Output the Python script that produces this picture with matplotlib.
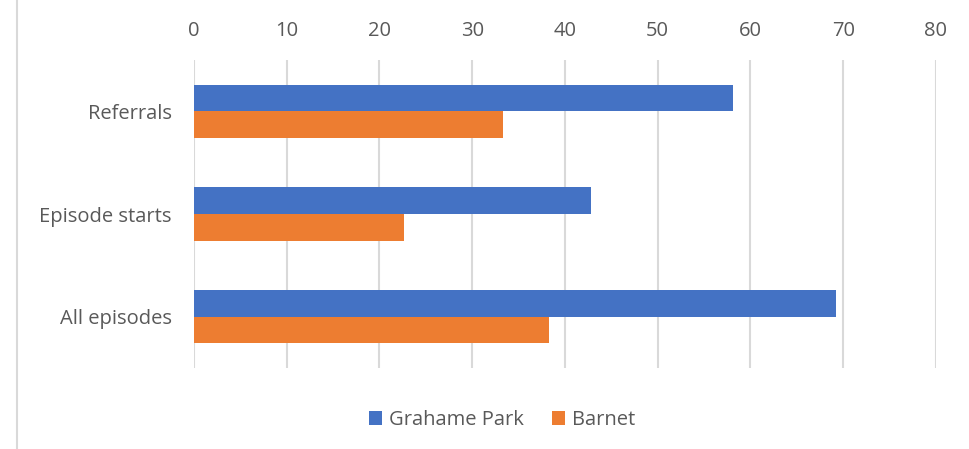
import matplotlib.pyplot as plt
import numpy as np
from matplotlib.lines import Line2D

plt.rcParams['font.family'] = ['Open Sans', 'DejaVu Sans']

categories = ['Referrals', 'Episode starts', 'All episodes']
grahame_park = [58.1, 42.8, 69.2]
barnet = [33.3, 22.6, 38.3]
x_ticks = [0, 10, 20, 30, 40, 50, 60, 70, 80]

blue = '#4472C4'
orange = '#ED7D31'
grey_text = '#595959'
grid_col = '#D9D9D9'

fig = plt.figure(figsize=(9.7, 4.49), dpi=100)
ax = fig.add_axes([194 / 970, 1 - 368 / 449, (936 - 194) / 970, (368 - 60) / 449])

y = np.arange(len(categories))
h = 0.26
ax.barh(y - h / 2, grahame_park, height=h, color=blue, label='Grahame Park', zorder=3)
ax.barh(y + h / 2, barnet, height=h, color=orange, label='Barnet', zorder=3)

ax.set_xlim(0, 80)
ax.set_ylim(len(categories) - 0.5, -0.5)
ax.set_xticks(x_ticks)
ax.set_yticks(y)
ax.set_yticklabels(categories)
ax.xaxis.tick_top()
ax.tick_params(axis='x', length=0, pad=14, labelsize=14.5, labelcolor=grey_text)
ax.tick_params(axis='y', length=0, pad=16, labelsize=14.5, labelcolor=grey_text)
ax.grid(axis='x', color=grid_col, linewidth=1.5, zorder=0)
for s in ax.spines.values():
    s.set_visible(False)

fig.legend(loc='center', bbox_to_anchor=(502 / 970, 1 - 420 / 449), ncol=2,
           frameon=False, fontsize=14.5, labelcolor=grey_text,
           handlelength=0.65, handleheight=0.65, handletextpad=0.35,
           columnspacing=1.4)

# thin frame line on the left edge
fig.add_artist(Line2D([17 / 970, 17 / 970], [0, 1], transform=fig.transFigure,
                      color='#D9D9D9', linewidth=1.5))

fig.savefig('out.png', dpi=100)
